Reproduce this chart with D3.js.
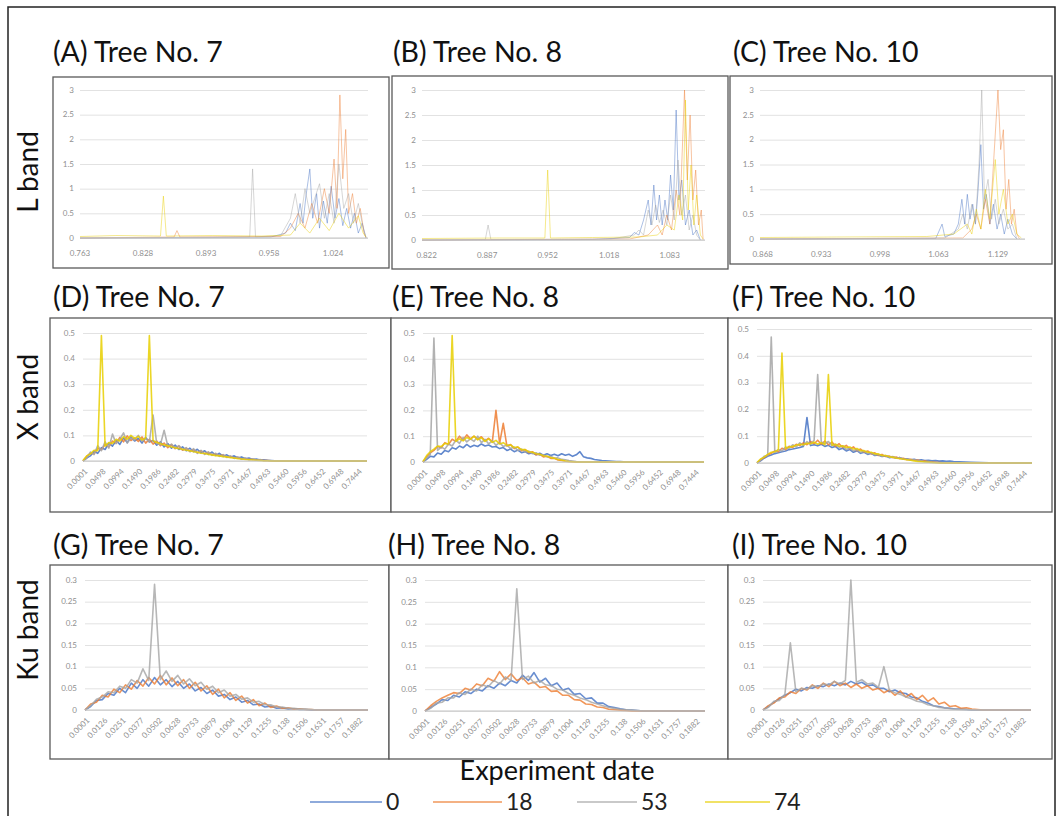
<!DOCTYPE html>
<html>
<head>
<meta charset="utf-8">
<script src="https://cdn.jsdelivr.net/npm/d3@7"></script>
<style>
	body { margin: 0; background: #fff; }
	svg text { font-family: Lato, "Open Sans", sans-serif; }
	.tick-label { font-size: 8px; fill: #8f8f8f; }
</style>
</head>
<body>
<svg id="chart" width="1059" height="816"></svg>
<script>
// legend / series
const seriesNames = ["0", "18", "53", "74"];
const seriesColors = ["#4472c4", "#ed7d31", "#a5a5a5", "#e8cf00"];

// y ticks per band
const lYTicks = [0, 0.5, 1, 1.5, 2, 2.5, 3];
const xYTicks = [0, 0.1, 0.2, 0.3, 0.4, 0.5];
const kuYTicks = [0, 0.05, 0.1, 0.15, 0.2, 0.25, 0.3];

// x tick labels
const lTicks7 = ["0.763", "0.828", "0.893", "0.958", "1.024"];
const lTicks8 = ["0.822", "0.887", "0.952", "1.018", "1.083"];
const lTicks10 = ["0.868", "0.933", "0.998", "1.063", "1.129"];
const xTicks = ["0.0001", "0.0498", "0.0994", "0.1490", "0.1986", "0.2482", "0.2979", "0.3475",
	"0.3971", "0.4467", "0.4963", "0.5460", "0.5956", "0.6452", "0.6948", "0.7444"];
const kuTicks = ["0.0001", "0.0126", "0.0251", "0.0377", "0.0502", "0.0628", "0.0753", "0.0879",
	"0.1004", "0.1129", "0.1255", "0.138", "0.1506", "0.1631", "0.1757", "0.1882"];

// L band: [x, y] points for series 0, 18, 53, 74
const lBand7 = [
	[[0.763,0],[0.90,0.01],[0.96,0.02],[0.975,0.1],[0.98,0.3],[0.985,0.15],[0.99,0.7],[0.993,0.3],[0.996,0.85],[1.0,1.4],[1.003,0.4],[1.007,0.9],[1.01,0.2],[1.014,0.75],[1.018,0.3],[1.022,1.05],[1.026,0.4],[1.03,0.8],[1.034,0.25],[1.038,0.6],[1.042,0.2],[1.046,0.5],[1.05,0.1],[1.054,0.3],[1.058,0]],
	[[0.763,0],[0.86,0.02],[0.863,0.15],[0.866,0.02],[0.97,0.03],[0.98,0.2],[0.988,0.5],[0.995,0.2],[1.002,0.7],[1.008,0.3],[1.015,1.0],[1.02,0.5],[1.025,1.6],[1.028,0.6],[1.031,2.9],[1.034,1.2],[1.037,2.2],[1.04,0.5],[1.044,0.9],[1.048,0.3],[1.052,0.6],[1.056,0.1],[1.058,0]],
	[[0.763,0],[0.938,0.02],[0.941,1.4],[0.944,0.02],[0.97,0.05],[0.98,0.4],[0.985,0.9],[0.99,0.3],[0.995,1.0],[1.0,0.5],[1.005,0.8],[1.01,1.1],[1.015,0.4],[1.02,0.9],[1.025,0.3],[1.03,1.5],[1.035,0.6],[1.04,0.9],[1.045,0.3],[1.05,0.7],[1.055,0.2],[1.058,0]],
	[[0.763,0.03],[0.80,0.05],[0.846,0.04],[0.849,0.85],[0.852,0.04],[0.90,0.05],[0.95,0.04],[0.98,0.06],[0.99,0.3],[1.0,0.1],[1.01,0.4],[1.02,0.15],[1.03,0.5],[1.04,0.2],[1.05,0.45],[1.055,0.1],[1.058,0.02]]
];
const lBand8 = [
	[[0.817,0],[1.0,0.01],[1.04,0.05],[1.045,0.15],[1.05,0.1],[1.055,0.4],[1.06,0.8],[1.063,0.3],[1.066,1.1],[1.069,0.4],[1.072,0.9],[1.075,0.3],[1.078,0.8],[1.081,0.4],[1.084,1.3],[1.087,0.6],[1.09,2.6],[1.093,0.8],[1.096,1.2],[1.1,0.3],[1.104,0.6],[1.108,0.1],[1.112,0.2],[1.116,0]],
	[[0.817,0],[1.04,0.02],[1.06,0.1],[1.07,0.3],[1.075,0.1],[1.08,0.5],[1.085,0.2],[1.09,1.0],[1.094,0.5],[1.097,2.0],[1.099,3.0],[1.102,1.2],[1.105,2.5],[1.108,0.8],[1.111,1.4],[1.114,0.3],[1.117,0.6],[1.119,0]],
	[[0.817,0],[0.885,0.01],[0.888,0.3],[0.891,0.01],[1.02,0.02],[1.045,0.1],[1.05,0.2],[1.055,0.1],[1.06,0.6],[1.064,0.3],[1.068,0.7],[1.072,0.35],[1.076,0.6],[1.08,0.3],[1.084,0.9],[1.088,0.4],[1.092,1.6],[1.096,0.5],[1.1,0.9],[1.104,0.2],[1.108,0.5],[1.112,0.1],[1.116,0]],
	[[0.817,0.03],[0.9,0.04],[0.949,0.04],[0.952,1.4],[0.955,0.04],[1.0,0.05],[1.05,0.06],[1.07,0.1],[1.08,0.3],[1.088,0.2],[1.093,0.9],[1.097,0.4],[1.1,2.8],[1.103,0.6],[1.106,1.5],[1.109,0.3],[1.112,0.9],[1.116,0.1],[1.119,0.02]]
];
const lBand10 = [
	[[0.865,0],[1.06,0.01],[1.067,0.3],[1.07,0.05],[1.08,0.1],[1.085,0.3],[1.089,0.8],[1.092,0.3],[1.095,0.9],[1.098,0.4],[1.101,0.7],[1.104,0.3],[1.107,1.0],[1.11,1.9],[1.113,0.6],[1.116,0.9],[1.12,0.3],[1.124,0.7],[1.128,0.2],[1.132,0.5],[1.136,0.1],[1.14,0.4],[1.145,0.1],[1.15,0]],
	[[0.865,0],[1.09,0.02],[1.1,0.2],[1.105,0.5],[1.11,0.2],[1.115,0.8],[1.12,0.3],[1.124,1.5],[1.127,2.4],[1.129,3.0],[1.132,1.8],[1.135,2.2],[1.138,0.6],[1.141,1.2],[1.144,0.3],[1.147,0.6],[1.15,0.1],[1.153,0]],
	[[0.865,0],[1.07,0.02],[1.085,0.2],[1.09,0.5],[1.095,0.2],[1.1,0.7],[1.104,0.3],[1.108,1.5],[1.111,3.0],[1.114,0.8],[1.118,1.2],[1.122,0.4],[1.126,0.8],[1.13,0.3],[1.135,0.6],[1.14,0.2],[1.145,0.3],[1.15,0]],
	[[0.865,0.03],[0.95,0.04],[1.05,0.05],[1.08,0.1],[1.095,0.3],[1.1,0.1],[1.105,0.6],[1.11,0.2],[1.115,1.0],[1.12,0.4],[1.126,1.6],[1.13,0.5],[1.135,1.0],[1.14,0.3],[1.145,0.5],[1.15,0.1],[1.155,0.02]]
];

// X band: shared x positions, y values per series
const xBandX = [0.0001,0.01,0.02,0.03,0.04,0.05,0.06,0.07,0.08,0.09,
	0.10,0.11,0.12,0.13,0.14,0.15,0.16,0.17,0.18,0.19,
	0.20,0.21,0.22,0.23,0.24,0.25,0.26,0.27,0.28,0.29,
	0.30,0.31,0.32,0.33,0.34,0.35,0.36,0.37,0.38,0.39,
	0.40,0.41,0.42,0.43,0.44,0.45,0.46,0.47,0.48,0.49,
	0.50,0.51,0.52,0.53,0.54,0.55,0.60,0.65,0.70,0.77];
const xBand7 = [
	[0,0.012,0.02,0.038,0.03,0.052,0.045,0.07,0.058,0.08,
	 0.065,0.09,0.072,0.095,0.078,0.088,0.07,0.092,0.074,0.08,
	 0.062,0.075,0.055,0.068,0.05,0.062,0.045,0.055,0.04,0.05,
	 0.036,0.046,0.032,0.04,0.026,0.035,0.022,0.03,0.018,0.024,
	 0.015,0.02,0.012,0.016,0.009,0.012,0.006,0.008,0.004,0.005,
	 0.003,0.002,0.001,0,0,0,0,0,0,0],
	[0,0.018,0.03,0.028,0.05,0.044,0.065,0.055,0.078,0.07,
	 0.092,0.075,0.098,0.08,0.09,0.076,0.094,0.07,0.085,0.066,
	 0.078,0.06,0.07,0.052,0.064,0.048,0.058,0.042,0.05,0.038,
	 0.045,0.032,0.04,0.028,0.034,0.024,0.028,0.02,0.024,0.015,
	 0.018,0.012,0.014,0.008,0.01,0.006,0.007,0.004,0.004,0.002,
	 0.002,0.001,0,0,0,0,0,0,0,0],
	[0,0.01,0.035,0.025,0.06,0.04,0.075,0.05,0.105,0.068,
	 0.085,0.11,0.07,0.09,0.082,0.1,0.078,0.088,0.075,0.18,
	 0.068,0.064,0.12,0.058,0.066,0.05,0.06,0.044,0.052,0.036,
	 0.048,0.03,0.042,0.026,0.036,0.022,0.03,0.018,0.025,0.014,
	 0.02,0.01,0.016,0.008,0.012,0.005,0.009,0.003,0.006,0.002,
	 0.003,0.001,0.001,0,0,0,0,0,0,0],
	[0.002,0.02,0.028,0.042,0.04,0.49,0.058,0.072,0.068,0.085,
	 0.078,0.095,0.085,0.1,0.088,0.096,0.082,0.09,0.49,0.08,
	 0.072,0.068,0.062,0.06,0.055,0.052,0.048,0.046,0.042,0.04,
	 0.036,0.034,0.03,0.029,0.026,0.024,0.021,0.02,0.017,0.016,
	 0.013,0.012,0.009,0.008,0.006,0.005,0.004,0.003,0.002,0.001,
	 0.001,0,0,0,0,0,0,0,0,0]
];
const xBand8 = [
	[0,0.01,0.022,0.02,0.035,0.03,0.045,0.04,0.055,0.05,
	 0.062,0.055,0.068,0.058,0.065,0.06,0.07,0.062,0.066,0.058,
	 0.06,0.052,0.056,0.045,0.05,0.04,0.046,0.036,0.04,0.032,
	 0.036,0.028,0.034,0.026,0.032,0.025,0.03,0.024,0.032,0.026,
	 0.03,0.022,0.028,0.04,0.02,0.016,0.014,0.01,0.008,0.006,
	 0.005,0.004,0.003,0.002,0.002,0.001,0,0,0,0],
	[0,0.02,0.035,0.045,0.06,0.055,0.075,0.068,0.088,0.08,
	 0.1,0.085,0.105,0.09,0.1,0.088,0.098,0.082,0.092,0.078,
	 0.2,0.072,0.15,0.062,0.068,0.052,0.058,0.044,0.048,0.036,
	 0.04,0.028,0.03,0.02,0.022,0.014,0.014,0.008,0.006,0.003,
	 0.002,0.001,0,0,0,0,0,0,0,0,
	 0,0,0,0,0,0,0,0,0,0],
	[0,0.015,0.028,0.48,0.045,0.058,0.05,0.07,0.062,0.085,
	 0.072,0.095,0.078,0.09,0.08,0.1,0.075,0.088,0.07,0.082,
	 0.065,0.075,0.06,0.066,0.052,0.058,0.045,0.05,0.038,0.042,
	 0.032,0.036,0.026,0.028,0.02,0.022,0.015,0.016,0.01,0.009,
	 0.006,0.004,0.002,0.001,0,0,0,0,0,0,
	 0,0,0,0,0,0,0,0,0,0],
	[0.002,0.025,0.04,0.05,0.062,0.06,0.072,0.07,0.49,0.08,
	 0.09,0.082,0.095,0.088,0.1,0.086,0.094,0.08,0.09,0.076,
	 0.084,0.07,0.075,0.064,0.066,0.056,0.058,0.048,0.048,0.04,
	 0.038,0.032,0.03,0.024,0.022,0.017,0.015,0.01,0.008,0.004,
	 0.002,0.001,0,0,0,0,0,0,0,0,
	 0,0,0,0,0,0,0,0,0,0]
];
const xBand10 = [
	[0,0.008,0.018,0.025,0.03,0.035,0.038,0.042,0.045,0.05,
	 0.052,0.055,0.058,0.062,0.17,0.065,0.068,0.064,0.07,0.062,
	 0.066,0.058,0.062,0.05,0.055,0.045,0.05,0.04,0.046,0.036,
	 0.04,0.032,0.036,0.028,0.03,0.024,0.026,0.02,0.022,0.018,
	 0.02,0.015,0.016,0.012,0.014,0.01,0.012,0.009,0.01,0.008,
	 0.009,0.007,0.008,0.006,0.007,0.005,0.003,0.001,0,0],
	[0,0.012,0.02,0.03,0.036,0.045,0.042,0.055,0.05,0.062,
	 0.058,0.07,0.065,0.075,0.068,0.08,0.072,0.085,0.07,0.082,
	 0.068,0.078,0.062,0.072,0.058,0.066,0.052,0.06,0.046,0.052,
	 0.04,0.045,0.034,0.038,0.028,0.032,0.024,0.026,0.02,0.022,
	 0.016,0.018,0.012,0.014,0.01,0.011,0.007,0.008,0.005,0.004,
	 0.003,0.002,0.001,0,0,0,0,0,0,0],
	[0,0.01,0.025,0.028,0.47,0.04,0.05,0.045,0.06,0.055,
	 0.068,0.06,0.075,0.065,0.08,0.07,0.085,0.33,0.078,0.072,
	 0.08,0.065,0.07,0.058,0.064,0.05,0.056,0.045,0.05,0.04,
	 0.044,0.035,0.038,0.03,0.032,0.025,0.028,0.022,0.024,0.018,
	 0.02,0.014,0.015,0.01,0.012,0.008,0.008,0.005,0.005,0.003,
	 0.002,0.001,0,0,0,0,0,0,0,0],
	[0.002,0.015,0.022,0.032,0.04,0.042,0.05,0.41,0.055,0.06,
	 0.062,0.066,0.07,0.068,0.074,0.072,0.078,0.07,0.076,0.068,
	 0.33,0.066,0.07,0.062,0.064,0.058,0.06,0.052,0.054,0.046,
	 0.046,0.04,0.04,0.034,0.034,0.028,0.028,0.023,0.022,0.018,
	 0.017,0.014,0.012,0.01,0.008,0.006,0.005,0.004,0.003,0.002,
	 0.001,0,0,0,0,0,0,0,0,0]
];

// Ku band: shared x positions, y values per series (74 not visible)
const kuBandX = [0.0001,0.004,0.008,0.012,0.016,0.02,0.024,0.028,0.032,0.036,
	0.04,0.044,0.048,0.052,0.056,0.06,0.064,0.068,0.072,0.076,
	0.08,0.084,0.088,0.092,0.096,0.1,0.104,0.108,0.112,0.116,
	0.12,0.124,0.128,0.132,0.136,0.14,0.144,0.148,0.152,0.156,
	0.16,0.17,0.18,0.195];
const kuBand7 = [
	[0,0.008,0.022,0.024,0.038,0.034,0.05,0.04,0.062,0.05,
	 0.07,0.055,0.075,0.058,0.07,0.054,0.066,0.05,0.06,0.044,
	 0.052,0.038,0.046,0.032,0.036,0.024,0.03,0.018,0.022,0.012,
	 0.014,0.007,0.009,0.004,0.005,0.002,0.003,0.001,0.001,0,
	 0,0,0,0],
	[0,0.014,0.018,0.034,0.03,0.048,0.04,0.058,0.048,0.068,
	 0.055,0.075,0.06,0.08,0.058,0.074,0.056,0.07,0.05,0.064,
	 0.044,0.056,0.036,0.048,0.028,0.04,0.022,0.032,0.016,0.024,
	 0.01,0.016,0.006,0.009,0.004,0.005,0.002,0.003,0.001,0.001,
	 0,0,0,0],
	[0,0.01,0.025,0.03,0.042,0.04,0.055,0.05,0.07,0.062,
	 0.095,0.068,0.29,0.07,0.09,0.066,0.08,0.06,0.072,0.056,
	 0.064,0.048,0.055,0.04,0.046,0.032,0.036,0.025,0.028,0.018,
	 0.02,0.012,0.012,0.007,0.007,0.004,0.004,0.002,0.002,0.001,
	 0,0,0,0],
	[]
];
const kuBand8 = [
	[0,0.008,0.016,0.026,0.024,0.036,0.032,0.044,0.04,0.05,
	 0.046,0.058,0.052,0.064,0.058,0.07,0.064,0.082,0.07,0.088,
	 0.066,0.075,0.058,0.064,0.048,0.052,0.038,0.04,0.028,0.03,
	 0.018,0.018,0.01,0.008,0.005,0.003,0.002,0.001,0,0,
	 0,0,0,0],
	[0,0.012,0.022,0.03,0.036,0.042,0.04,0.052,0.048,0.062,
	 0.058,0.075,0.068,0.09,0.072,0.085,0.07,0.076,0.062,0.066,
	 0.054,0.056,0.045,0.046,0.036,0.036,0.026,0.025,0.016,0.015,
	 0.009,0.008,0.004,0.003,0.002,0.001,0,0,0,0,
	 0,0,0,0],
	[0,0.006,0.018,0.02,0.03,0.03,0.042,0.038,0.05,0.046,
	 0.06,0.055,0.07,0.062,0.078,0.07,0.28,0.072,0.08,0.064,
	 0.07,0.06,0.058,0.05,0.048,0.04,0.036,0.03,0.026,0.02,
	 0.016,0.012,0.008,0.006,0.004,0.003,0.002,0.001,0,0,
	 0,0,0,0],
	[]
];
const kuBand10 = [
	[0,0.008,0.018,0.026,0.034,0.04,0.048,0.044,0.052,0.05,
	 0.056,0.054,0.06,0.056,0.062,0.058,0.066,0.06,0.064,0.056,
	 0.058,0.05,0.05,0.042,0.046,0.04,0.038,0.03,0.028,0.02,
	 0.016,0.01,0.008,0.005,0.004,0.002,0.002,0.001,0,0,
	 0,0,0,0],
	[0,0.01,0.016,0.028,0.03,0.042,0.038,0.05,0.046,0.058,
	 0.05,0.062,0.054,0.066,0.056,0.062,0.052,0.06,0.05,0.056,
	 0.046,0.05,0.04,0.046,0.034,0.044,0.03,0.038,0.024,0.034,
	 0.02,0.028,0.014,0.018,0.008,0.01,0.004,0.005,0.002,0.001,
	 0,0,0,0],
	[0,0.006,0.02,0.022,0.036,0.155,0.042,0.05,0.048,0.056,
	 0.054,0.06,0.058,0.066,0.06,0.068,0.3,0.064,0.07,0.06,
	 0.062,0.052,0.1,0.046,0.04,0.036,0.03,0.026,0.02,0.018,
	 0.012,0.01,0.006,0.005,0.003,0.002,0.001,0.001,0,0,
	 0,0,0,0],
	[]
];

// pair shared x with y series
const pair = (xs, ys) => ys.map((y, i) => [xs[i], y]);

const panels = [
	{ title: "(A) Tree No. 7", tx: 53, ty: 62, box: [53, 77, 336, 191], plot: [80, 90, 368, 238], xDomain: [0.763, 1.06], yTicks: lYTicks, xLabels: lTicks7, rotate: false, series: lBand7, opacity: 0.45, width: 1 },
	{ title: "(B) Tree No. 8", tx: 393, ty: 62, box: [392, 76, 336, 193], plot: [422, 90, 705, 240], xDomain: [0.817, 1.121], yTicks: lYTicks, xLabels: lTicks8, rotate: false, series: lBand8, opacity: 0.45, width: 1 },
	{ title: "(C) Tree No. 10", tx: 733, ty: 62, box: [730, 76, 322, 188], plot: [760, 90, 1025, 239], xDomain: [0.865, 1.159], yTicks: lYTicks, xLabels: lTicks10, rotate: false, series: lBand10, opacity: 0.45, width: 1 },
	{ title: "(D) Tree No. 7", tx: 53, ty: 307, box: [50, 318, 341, 194], plot: [83, 333, 367, 461], xDomain: [0.0001, 0.77], yTicks: xYTicks, xLabels: xTicks, rotate: true, series: xBand7.map(s => pair(xBandX, s)), opacity: 0.85, width: 1.6 },
	{ title: "(E) Tree No. 8", tx: 392, ty: 307, box: [391, 318, 337, 194], plot: [423, 333, 704, 462], xDomain: [0.0001, 0.77], yTicks: xYTicks, xLabels: xTicks, rotate: true, series: xBand8.map(s => pair(xBandX, s)), opacity: 0.85, width: 1.6 },
	{ title: "(F) Tree No. 10", tx: 732, ty: 307, box: [728, 318, 324, 194], plot: [757, 329, 1032, 463], xDomain: [0.0001, 0.77], yTicks: xYTicks, xLabels: xTicks, rotate: true, series: xBand10.map(s => pair(xBandX, s)), opacity: 0.85, width: 1.6 },
	{ title: "(G) Tree No. 7", tx: 53, ty: 555, box: [50, 565, 339, 194], plot: [85, 580, 368, 710], xDomain: [0.0001, 0.195], yTicks: kuYTicks, xLabels: kuTicks, rotate: true, series: kuBand7.map(s => pair(kuBandX, s)), opacity: 0.8, width: 1.6 },
	{ title: "(H) Tree No. 8", tx: 388, ty: 555, box: [389, 565, 339, 194], plot: [425, 580, 705, 711], xDomain: [0.0001, 0.195], yTicks: kuYTicks, xLabels: kuTicks, rotate: true, series: kuBand8.map(s => pair(kuBandX, s)), opacity: 0.8, width: 1.6 },
	{ title: "(I) Tree No. 10", tx: 732, ty: 555, box: [728, 565, 324, 194], plot: [763, 580, 1031, 710], xDomain: [0.0001, 0.195], yTicks: kuYTicks, xLabels: kuTicks, rotate: true, series: kuBand10.map(s => pair(kuBandX, s)), opacity: 0.8, width: 1.6 }
];

const rowLabels = [
	{ text: "L band", cy: 172 },
	{ text: "X band", cy: 397 },
	{ text: "Ku band", cy: 630 }
];

const svg = d3.select("#chart");

svg.append("rect")
	.attr("width", 1059).attr("height", 816)
	.attr("fill", "#fff");

// outer frame
svg.append("rect")
	.attr("x", 8).attr("y", 7)
	.attr("width", 1047).attr("height", 830)
	.attr("fill", "none")
	.attr("stroke", "#222")
	.attr("stroke-width", 1.5);

function drawPanel(p) {
	const [l, t, r, b] = p.plot;
	const g = svg.append("g");

	const x = d3.scaleLinear().domain(p.xDomain).range([l, r]);
	const yMax = p.yTicks[p.yTicks.length - 1];
	const y = d3.scaleLinear().domain([0, yMax]).range([b, t]);

	g.append("rect")
		.attr("x", p.box[0]).attr("y", p.box[1])
		.attr("width", p.box[2]).attr("height", p.box[3])
		.attr("fill", "#fff")
		.attr("stroke", "#595959")
		.attr("stroke-width", 1.3);

	// gridlines
	g.append("g")
		.attr("transform", `translate(${l},0)`)
		.call(d3.axisLeft(y).tickValues(p.yTicks).tickSize(-(r - l)).tickFormat(""))
		.call(a => a.select(".domain").remove())
		.call(a => a.selectAll("line").attr("stroke", "#e2e2e2"));

	// y tick labels
	g.selectAll(".ylab")
		.data(p.yTicks)
		.join("text")
		.attr("class", "tick-label")
		.attr("x", l - (p.rotate ? 8 : 6))
		.attr("y", d => y(d))
		.attr("dy", "0.35em")
		.attr("text-anchor", "end")
		.text(d => String(d));

	// series
	const line = d3.line()
		.x(d => x(d[0]))
		.y(d => y(d[1]));

	p.series.forEach((s, i) => {
		if (!s.length) return;
		g.append("path")
			.datum(s)
			.attr("fill", "none")
			.attr("stroke", seriesColors[i])
			.attr("stroke-opacity", p.opacity)
			.attr("stroke-width", p.width)
			.attr("stroke-linejoin", "round")
			.attr("d", line);
	});

	// zero axis line
	g.append("line")
		.attr("x1", l).attr("x2", r)
		.attr("y1", y(0)).attr("y2", y(0))
		.attr("stroke", "#c4c4c4")
		.attr("stroke-width", 1.2);

	// x tick labels
	const xl = g.selectAll(".xlab")
		.data(p.xLabels)
		.join("text")
		.attr("class", "tick-label");
	if (p.rotate) {
		xl.attr("text-anchor", "end")
			.attr("transform", d => `translate(${x(+d) + 3},${b + 9}) rotate(-45)`)
			.attr("dy", "0.35em")
			.text(d => d);
	} else {
		xl.attr("text-anchor", "middle")
			.attr("x", d => x(+d))
			.attr("y", b + 18)
			.text(d => d);
	}

	// panel title
	svg.append("text")
		.attr("x", p.tx).attr("y", p.ty)
		.attr("font-size", 28.5)
		.attr("fill", "#111")
		.text(p.title);
}

panels.forEach(drawPanel);

rowLabels.forEach(r => {
	svg.append("text")
		.attr("transform", `translate(38,${r.cy}) rotate(-90)`)
		.attr("text-anchor", "middle")
		.attr("font-size", 28)
		.attr("fill", "#111")
		.text(r.text);
});

svg.append("text")
	.attr("x", 557).attr("y", 780)
	.attr("text-anchor", "middle")
	.attr("font-size", 27)
	.attr("fill", "#111")
	.text("Experiment date");

// legend
const legendX = [310, 433, 577, 705];
const legendLen = [72, 69, 60, 65];
const legend = svg.append("g");
seriesNames.forEach((name, i) => {
	legend.append("line")
		.attr("x1", legendX[i]).attr("x2", legendX[i] + legendLen[i])
		.attr("y1", 802).attr("y2", 802)
		.attr("stroke", seriesColors[i])
		.attr("stroke-opacity", 0.8)
		.attr("stroke-width", 1.5);
	legend.append("text")
		.attr("x", legendX[i] + legendLen[i] + 4)
		.attr("y", 810)
		.attr("font-size", 23)
		.attr("fill", "#222")
		.text(name);
});
</script>
</body>
</html>
